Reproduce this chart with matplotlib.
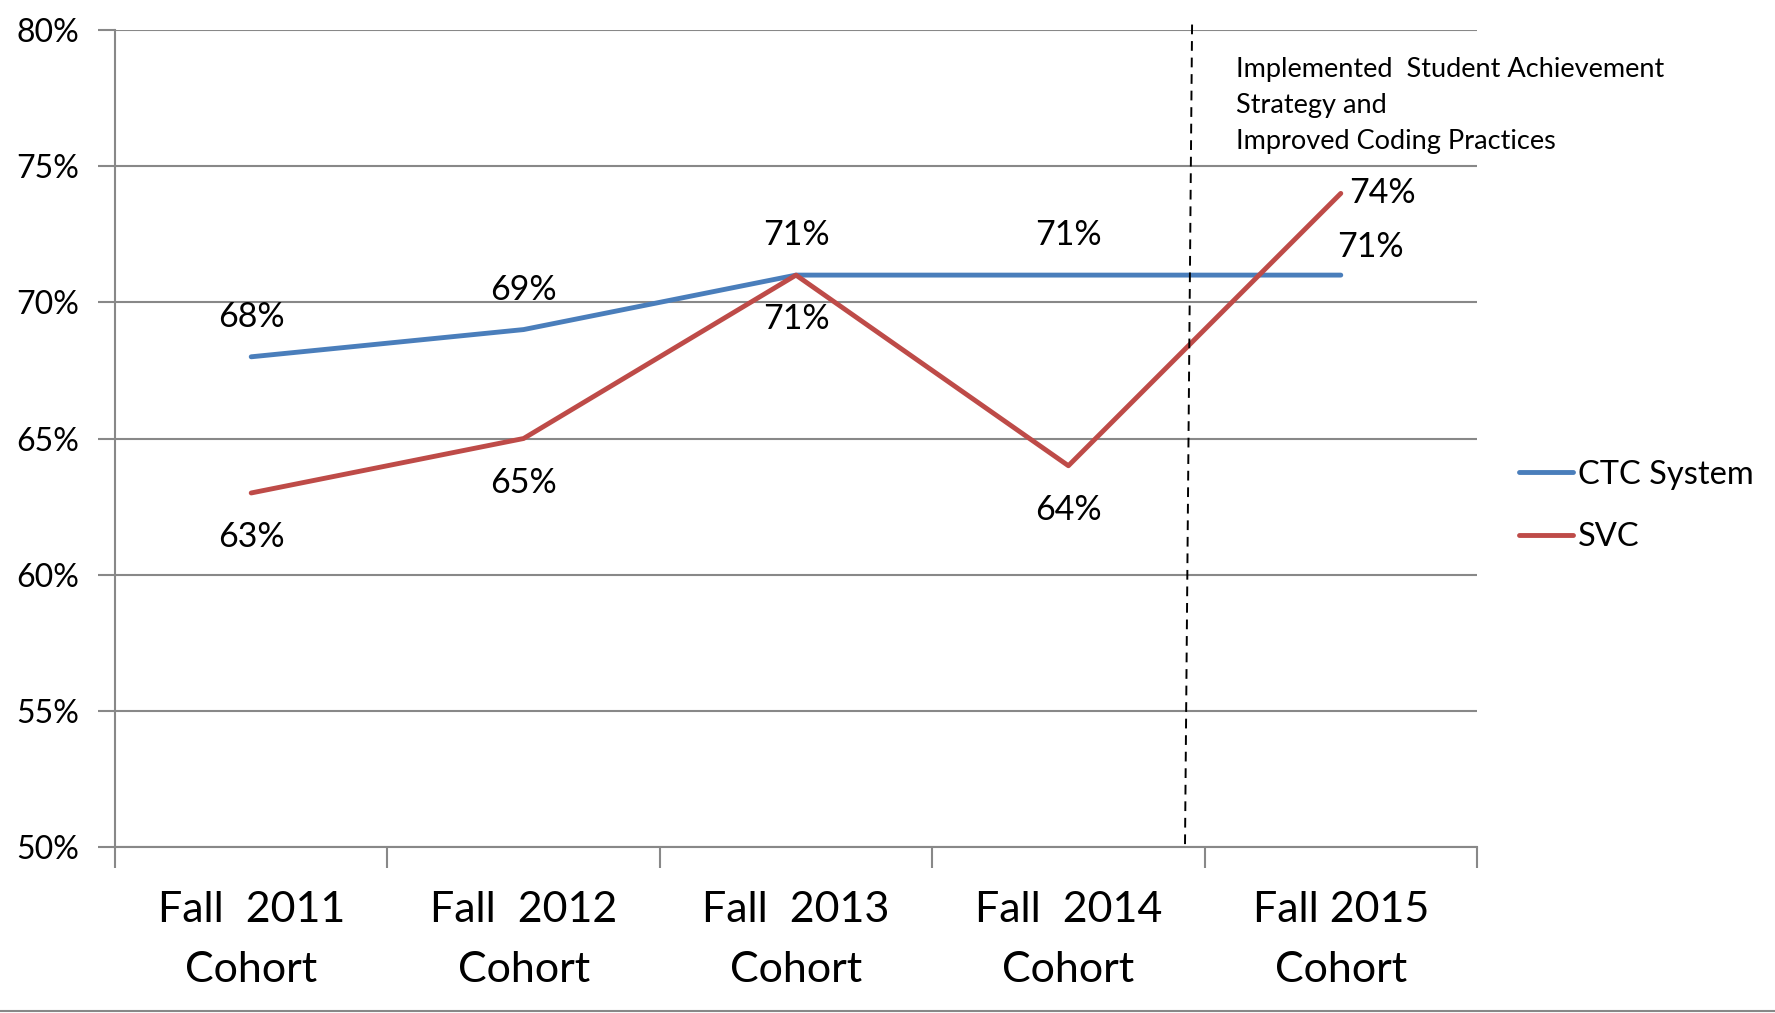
import matplotlib
matplotlib.use("Agg")
import matplotlib.pyplot as plt
from matplotlib.lines import Line2D

plt.rcParams['font.family'] = ['Lato', 'DejaVu Sans']

categories = ["Fall  2011\nCohort", "Fall  2012\nCohort", "Fall  2013\nCohort",
              "Fall  2014\nCohort", "Fall 2015\nCohort"]
ctc_system = [68, 69, 71, 71, 71]
svc = [63, 65, 71, 64, 74]
y_ticks = [50, 55, 60, 65, 70, 75, 80]
y_tick_labels = ["50%", "55%", "60%", "65%", "70%", "75%", "80%"]
annotation_lines = ["Implemented  Student Achievement", "Strategy and", "Improved Coding Practices"]

BLUE = "#4A7EBB"
RED = "#BE4B48"
GRID = "#888888"

W, H = 1775, 1013
fig = plt.figure(figsize=(W / 100, H / 100), dpi=100)
ax = fig.add_axes([115 / W, (H - 847) / H, (1477 - 115) / W, (847 - 30) / H])

x = list(range(len(categories)))
ax.plot(x, ctc_system, color=BLUE, lw=3.5, solid_capstyle='round', label="CTC System", zorder=3)
ax.plot(x, svc, color=RED, lw=3.5, solid_capstyle='round', label="SVC", zorder=3)

ax.set_xlim(-0.5, len(categories) - 0.5)
ax.set_ylim(50, 80)
ax.set_yticks(y_ticks)
ax.set_yticklabels(y_tick_labels, fontsize=23)
ax.set_xticks(x)
ax.set_xticklabels(categories, fontsize=31, linespacing=1.68)
ax.set_xticks([i - 0.5 for i in range(len(categories) + 1)], minor=True)
ax.tick_params(axis='x', which='major', length=0, pad=32)
ax.tick_params(axis='x', which='minor', length=15, width=1.5, color=GRID, direction='out')
ax.tick_params(axis='y', length=12, width=1.5, color=GRID, pad=14)
ax.grid(axis='y', color=GRID, lw=1.5, zorder=0)
for s in ['top', 'right']:
    ax.spines[s].set_visible(False)
for s in ['left', 'bottom']:
    ax.spines[s].set_color(GRID)
    ax.spines[s].set_linewidth(1.5)

# data labels
fs = 24.5
for i, v in enumerate(ctc_system):
    if i == len(ctc_system) - 1:
        off = (30, 28)
    else:
        off = (0, 40)
    ax.annotate(f"{v}%", (i, v), xytext=off, textcoords='offset pixels',
                ha='center', va='center', fontsize=fs)
for i, v in enumerate(svc):
    if i == len(svc) - 1:
        off = (42, 0)
    else:
        off = (0, -44)
    ax.annotate(f"{v}%", (i, v), xytext=off, textcoords='offset pixels',
                ha='center', va='center', fontsize=fs)

# dashed divider
ax.plot([3.454, 3.428], [80.2, 50], color='black', lw=1.4, ls=(0, (5, 3.5)), clip_on=False, zorder=4)

# annotation text
for j, line in enumerate(annotation_lines):
    fig.text(1236 / W, 1 - (69 + 36 * j) / H, line, fontsize=19.5, ha='left', va='center')

# legend
handles = [Line2D([], [], color=BLUE, lw=3.5, solid_capstyle='round'),
           Line2D([], [], color=RED, lw=3.5, solid_capstyle='round')]
fig.legend(handles, ["CTC System", "SVC"], loc='center left',
           bbox_to_anchor=(1519 / W, 1 - 506 / H), frameon=False, fontsize=23.5,
           handlelength=1.65, handletextpad=0.15, labelspacing=1.0,
           borderpad=0, borderaxespad=0)

# bottom border line
fig.add_artist(Line2D([0, 1], [1 - 1011 / H, 1 - 1011 / H], color=GRID, lw=1.5,
                      transform=fig.transFigure))

fig.savefig("out.png", dpi=100)
